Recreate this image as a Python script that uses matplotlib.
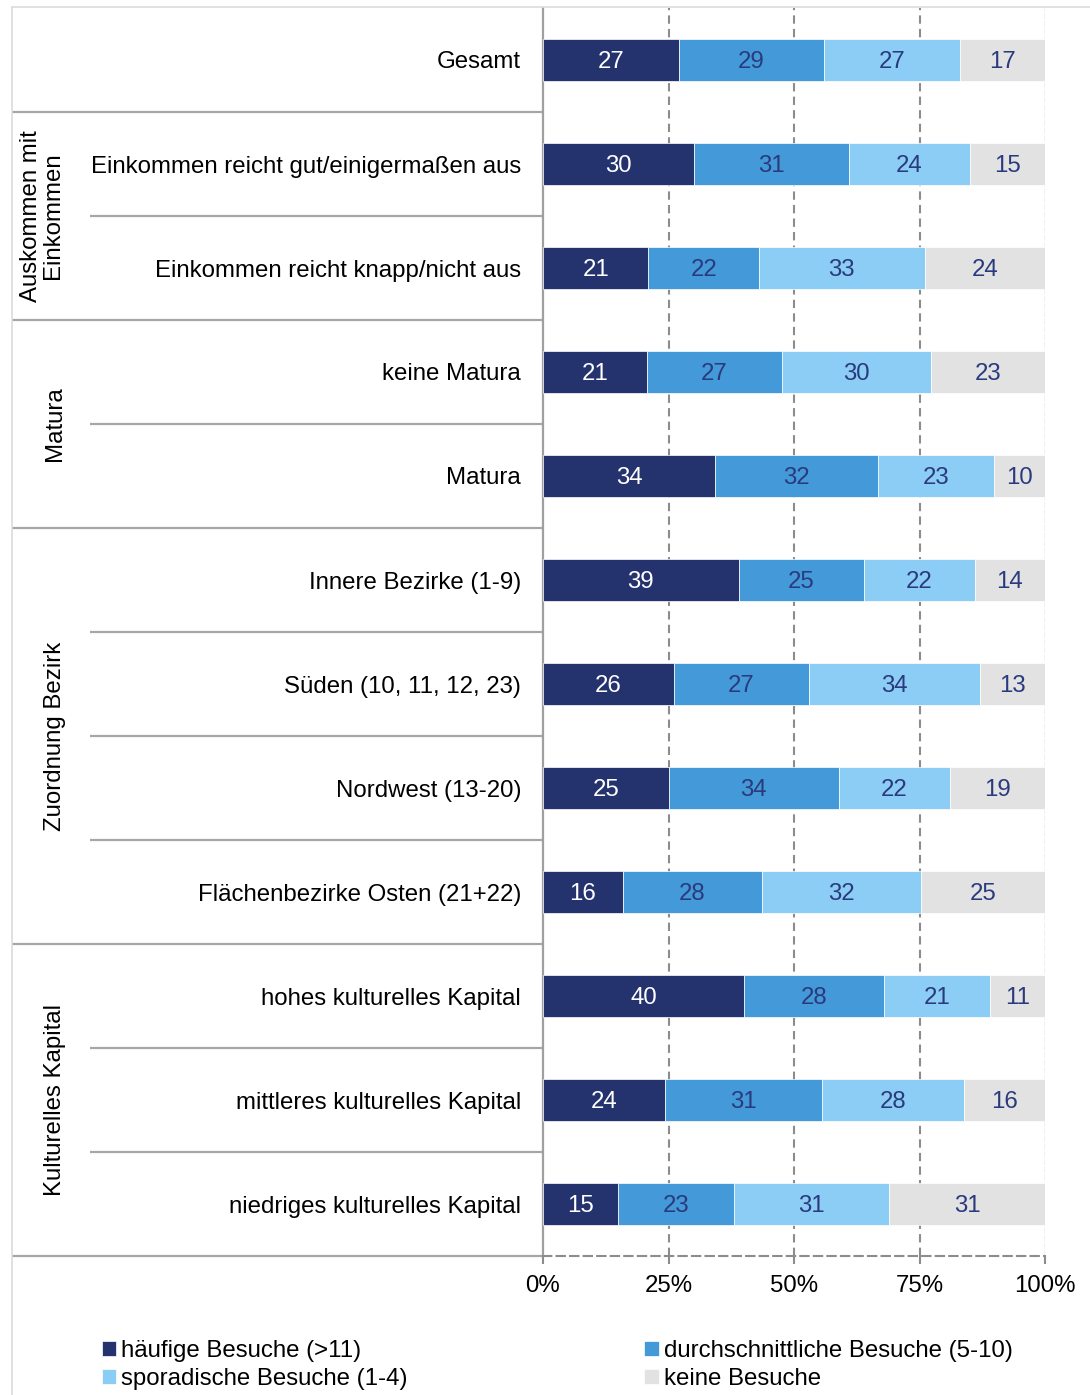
import matplotlib
matplotlib.use("Agg")
import matplotlib.pyplot as plt
import numpy as np

plt.rcParams['font.family'] = ['Liberation Sans', 'DejaVu Sans']

categories = ["Gesamt",
              "Einkommen reicht gut/einigermaßen aus",
              "Einkommen reicht knapp/nicht aus",
              "keine Matura", "Matura",
              "Innere Bezirke (1-9)", "Süden (10, 11, 12, 23)",
              "Nordwest (13-20)", "Flächenbezirke Osten (21+22)",
              "hohes kulturelles Kapital", "mittleres kulturelles Kapital",
              "niedriges kulturelles Kapital"]
haeufig = [27, 30, 21, 21, 34, 39, 26, 25, 16, 40, 24, 15]
durchschnittlich = [29, 31, 22, 27, 32, 25, 27, 34, 28, 28, 31, 23]
sporadisch = [27, 24, 33, 30, 23, 22, 34, 22, 32, 21, 28, 31]
keine = [17, 15, 24, 23, 10, 14, 13, 19, 25, 11, 16, 31]
series_names = ["häufige Besuche (>11)", "durchschnittliche Besuche (5-10)",
                "sporadische Besuche (1-4)", "keine Besuche"]
groups = [("Auskommen mit\nEinkommen", 1, 2), ("Matura", 3, 4),
          ("Zuordnung Bezirk", 5, 8), ("Kulturelles Kapital", 9, 11)]
xticks = [0, 25, 50, 75, 100]
xticklabels = ["0%", "25%", "50%", "75%", "100%"]

colors = ["#24326e", "#449ad8", "#8ccdf6", "#e2e2e2"]
text_colors = ["white", "#2a3a7e", "#2a3a7e", "#2a3a7e"]

W, H = 1090, 1395
fig = plt.figure(figsize=(W / 100, H / 100), dpi=100)
x0, x1, ytop, ybot = 543, 1045, 8, 1256
ax = fig.add_axes([x0 / W, 1 - ybot / H, (x1 - x0) / W, (ybot - ytop) / H])

data = np.array([haeufig, durchschnittlich, sporadisch, keine], dtype=float)
totals = data.sum(axis=0)
pct = data / totals * 100
y = np.arange(len(categories))
left = np.zeros(len(categories))
handles = []
fs = 17.3
for i in range(4):
    bars = ax.barh(y, pct[i], left=left, height=0.4, color=colors[i],
                   edgecolor='white', linewidth=0.5, zorder=3)
    handles.append(bars)
    for j in range(len(categories)):
        ax.text(left[j] + pct[i][j] / 2, y[j], str(int(data[i][j])),
                ha='center', va='center_baseline', color=text_colors[i],
                fontsize=fs, zorder=4)
    left += pct[i]

ax.set_xlim(0, 100)
ax.set_ylim(len(categories) - 0.5, -0.5)
ax.set_yticks([])
ax.set_xticks(xticks)
ax.set_xticklabels(xticklabels, fontsize=fs)
ax.tick_params(axis='x', length=6, width=1.5, color='#8c8c8c', pad=8)
for s in ['top', 'right']:
    ax.spines[s].set_visible(False)
ax.spines['left'].set_color('#a0a0a0')
ax.spines['left'].set_linewidth(1.6)
ax.spines['bottom'].set_color('#8c8c8c')
ax.spines['bottom'].set_linewidth(1.5)
ax.spines['bottom'].set_linestyle((0, (4, 2.5)))
for xv in [25, 50, 75]:
    ax.axvline(xv, color='#8c8c8c', lw=1.5, ls=(0, (4, 2.5)), zorder=1)
ax.axvline(100, color='#b4b4b4', lw=1.0, ls=(0, (4, 1.5)), zorder=1)

# label table area
tr = ax.get_yaxis_transform()
xl_outer = (12 - x0) / (x1 - x0)
xl_inner = (90 - x0) / (x1 - x0)
xlab = (521 - x0) / (x1 - x0)
for j, c in enumerate(categories):
    ax.text(xlab, j, c, transform=tr, ha='right', va='center_baseline',
            fontsize=fs, color='black', clip_on=False)

outer_lines = [0.5, 2.5, 4.5, 8.5, 11.5]
inner_lines = [1.5, 3.5, 5.5, 6.5, 7.5, 9.5, 10.5]
for yl in outer_lines:
    ax.plot([xl_outer, 0], [yl, yl], transform=tr, color='#a6a6a6', lw=1.6,
            clip_on=False, solid_capstyle='butt')
for yl in inner_lines:
    ax.plot([xl_inner, 0], [yl, yl], transform=tr, color='#a6a6a6', lw=1.6,
            clip_on=False, solid_capstyle='butt')

for name, a, b in groups:
    xc = (42 - x0) / (x1 - x0) if "\n" in name else (55 - x0) / (x1 - x0)
    ax.text(xc, (a + b) / 2, name, transform=tr, rotation=90, ha='center',
            va='center', fontsize=fs, linespacing=1.0, clip_on=False)

# outer light frame
fig.add_artist(plt.Line2D([12 / W, 12 / W], [0, 1 - 7 / H], color='#dcdcdc',
                          lw=1.2))
fig.add_artist(plt.Line2D([12 / W, 1], [1 - 7 / H, 1 - 7 / H], color='#dcdcdc',
                          lw=1.2))

order = [0, 2, 1, 3]
leg = fig.legend([handles[k] for k in order], [series_names[k] for k in order],
                 ncol=2, loc='upper left', bbox_to_anchor=(102 / W, 1 - 1340 / H),
                 frameon=False, fontsize=fs, handlelength=0.6, handleheight=0.6,
                 handletextpad=0.2, labelspacing=0.25, columnspacing=9.85,
                 borderaxespad=0, borderpad=0)

fig.savefig("out.png", dpi=100)
